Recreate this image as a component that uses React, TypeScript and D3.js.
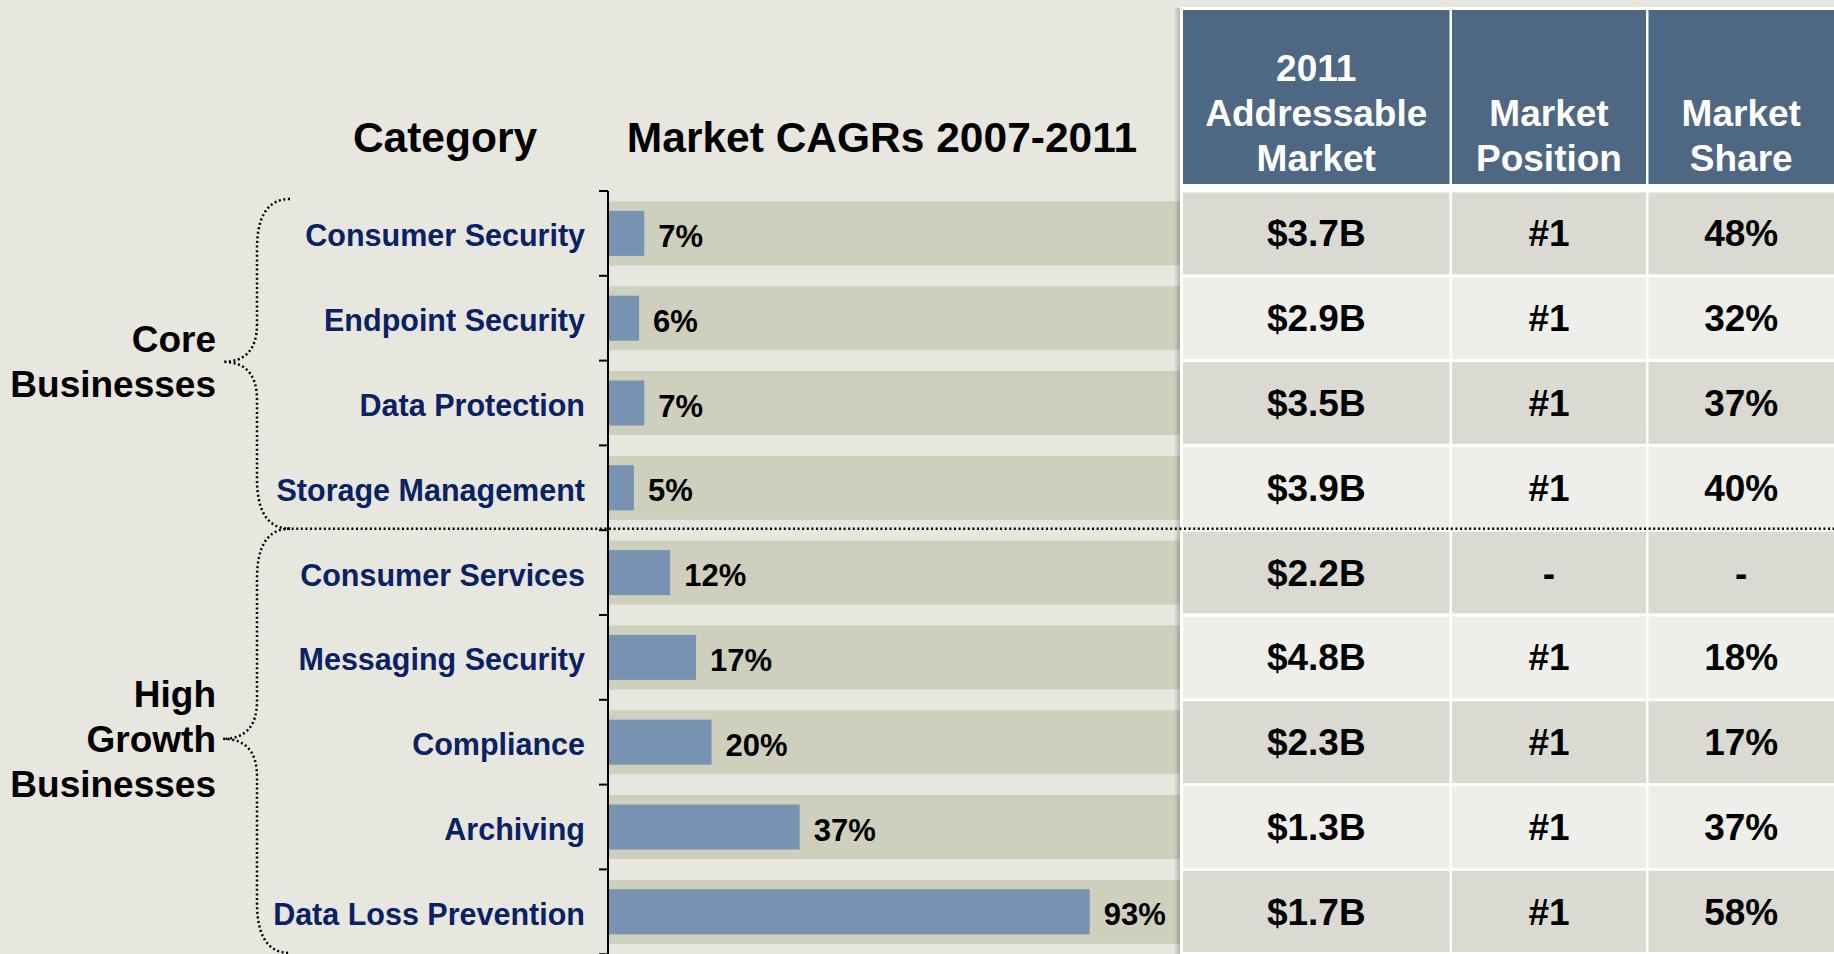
import React from 'react';
import * as d3 from 'd3';

const categories = [
  'Consumer Security',
  'Endpoint Security',
  'Data Protection',
  'Storage Management',
  'Consumer Services',
  'Messaging Security',
  'Compliance',
  'Archiving',
  'Data Loss Prevention',
];
const cagrValues = [7, 6, 7, 5, 12, 17, 20, 37, 93];
const addressableMarket = ['$3.7B', '$2.9B', '$3.5B', '$3.9B', '$2.2B', '$4.8B', '$2.3B', '$1.3B', '$1.7B'];
const marketPosition = ['#1', '#1', '#1', '#1', '-', '#1', '#1', '#1', '#1'];
const marketShare = ['48%', '32%', '37%', '40%', '-', '18%', '17%', '37%', '58%'];
const tableHeaders = [
  ['2011', 'Addressable', 'Market'],
  ['Market', 'Position'],
  ['Market', 'Share'],
];
const groupLabels = [
  ['Core', 'Businesses'],
  ['High', 'Growth', 'Businesses'],
];
const chartTitles = ['Category', 'Market CAGRs 2007-2011'];

const W = 1834;
const H = 954;
const FONT = '"Liberation Sans", Arial, Helvetica, sans-serif';
const BG = '#E7E6DF';
const BAND = '#CFCFBD';
const BAR = '#7893B2';
const HEADER = '#4E6783';
const ROW_DARK = '#DAD9D2';
const ROW_LIGHT = '#EEEEEA';
const NAVY = '#0A2263';

export default function App() {
  const y = d3.scaleBand<string>().domain(categories).range([191, 191 + 84.8 * categories.length]).padding(0);
  const x = d3.scaleLinear().domain([0, 100]).range([608, 1126]);
  const bw = y.bandwidth();
  const boundaries = categories.map((c) => y(c) as number).concat([191 + bw * categories.length]);

  const tableLeft = 1180;
  const cols = [
    [1183, 1449.5],
    [1452, 1646],
    [1648.5, 1834],
  ];
  const colData = [addressableMarket, marketPosition, marketShare];

  const bracePath = (y0: number, y1: number) => {
    const ym = (y0 + y1) / 2 - 2;
    const xe = 290;
    const xv = 257;
    const xt = 223;
    return `M ${xe} ${y0} C ${266} ${y0}, ${xv} ${y0 + 20}, ${xv} ${y0 + 50}
      L ${xv} ${ym - 38} C ${xv} ${ym - 12}, ${xv - 12} ${ym}, ${xt} ${ym}
      C ${xv - 12} ${ym}, ${xv} ${ym + 12}, ${xv} ${ym + 38}
      L ${xv} ${y1 - 50} C ${xv} ${y1 - 20}, ${266} ${y1}, ${xe} ${y1}`;
  };

  const sepY = boundaries[4] - 1.5;
  const braceBounds = [
    [199, sepY],
    [sepY, 953],
  ];

  return (
    <svg
      width={W}
      height={H}
      style={{ position: 'absolute', left: 0, top: 0, display: 'block' }}
      fontFamily={FONT}
    >
      <defs>
        <linearGradient id="shadow" x1="0" x2="1" y1="0" y2="0">
          <stop offset="0" stopColor="#000" stopOpacity="0" />
          <stop offset="1" stopColor="#000" stopOpacity="0.22" />
        </linearGradient>
      </defs>
      <rect x={0} y={0} width={W} height={H} fill={BG} />

      {/* titles */}
      <text x={445} y={152} fontSize={42.5} fontWeight="bold" textAnchor="middle" fill="#000">
        {chartTitles[0]}
      </text>
      <text x={882} y={152} fontSize={42.5} fontWeight="bold" textAnchor="middle" fill="#000">
        {chartTitles[1]}
      </text>

      {/* row bands and bars */}
      {categories.map((c, i) => {
        const cy = (y(c) as number) + bw / 2;
        return (
          <g key={c}>
            <rect x={608} y={cy - 32} width={tableLeft - 608} height={64} fill={BAND} />
            <rect x={x(0)} y={cy - 22.5} width={x(cagrValues[i]) - x(0)} height={45} fill={BAR} />
            <text x={x(cagrValues[i]) + 14} y={cy + 13.5} fontSize={31} fontWeight="bold" fill="#000">
              {cagrValues[i]}%
            </text>
            <text x={585} y={cy + 13} fontSize={30.5} fontWeight="bold" textAnchor="end" fill={NAVY}>
              {c}
            </text>
          </g>
        );
      })}

      {/* axis */}
      <line x1={608} x2={608} y1={191} y2={H} stroke="#000" strokeWidth={2} />
      {boundaries.map((b, i) => (
        <line key={i} x1={599} x2={608} y1={b} y2={b} stroke="#000" strokeWidth={2} />
      ))}

      {/* table */}
      <rect x={tableLeft - 6} y={8} width={6} height={H - 8} fill="url(#shadow)" />
      <rect x={tableLeft} y={7} width={W - tableLeft} height={H - 7} fill="#fff" />
      {cols.map(([a, b], ci) => (
        <g key={ci}>
          <rect x={a} y={10} width={b - a} height={174} fill={HEADER} />
          {tableHeaders[ci].map((line, li) => {
            const n = tableHeaders[ci].length;
            const base = 171 - (n - 1 - li) * 45;
            return (
              <text
                key={li}
                x={(a + b) / 2}
                y={base}
                fontSize={37}
                fontWeight="bold"
                textAnchor="middle"
                fill="#fff"
              >
                {line}
              </text>
            );
          })}
          {categories.map((c, ri) => {
            const top = boundaries[ri] + 1.5;
            const bot = Math.min(boundaries[ri + 1] - 1.5, H - 2);
            const cy = (y(c) as number) + bw / 2;
            return (
              <g key={c}>
                <rect x={a} y={top} width={b - a} height={bot - top} fill={ri % 2 === 0 ? ROW_DARK : ROW_LIGHT} />
                <text
                  x={(a + b) / 2}
                  y={cy + 13}
                  fontSize={37}
                  fontWeight="bold"
                  textAnchor="middle"
                  fill="#000"
                >
                  {colData[ci][ri]}
                </text>
              </g>
            );
          })}
        </g>
      ))}

      {/* dotted separator */}
      <line
        x1={287}
        x2={W}
        y1={sepY}
        y2={sepY}
        stroke="#000"
        strokeWidth={2.5}
        strokeDasharray="2 2.6"
      />

      {/* braces and group labels */}
      {groupLabels.map((lines, gi) => {
        const [y0, y1] = braceBounds[gi];
        const ym = (y0 + y1) / 2 - 2;
        const n = lines.length;
        return (
          <g key={gi}>
            <path
              d={bracePath(y0, y1)}
              fill="none"
              stroke="#000"
              strokeWidth={2.5}
              strokeDasharray="2 2.6"
            />
            {lines.map((l, li) => (
              <text
                key={li}
                x={216}
                y={ym + 13 + (li - (n - 1) / 2) * 45}
                fontSize={37}
                fontWeight="bold"
                textAnchor="end"
                fill="#000"
              >
                {l}
              </text>
            ))}
          </g>
        );
      })}
    </svg>
  );
}
